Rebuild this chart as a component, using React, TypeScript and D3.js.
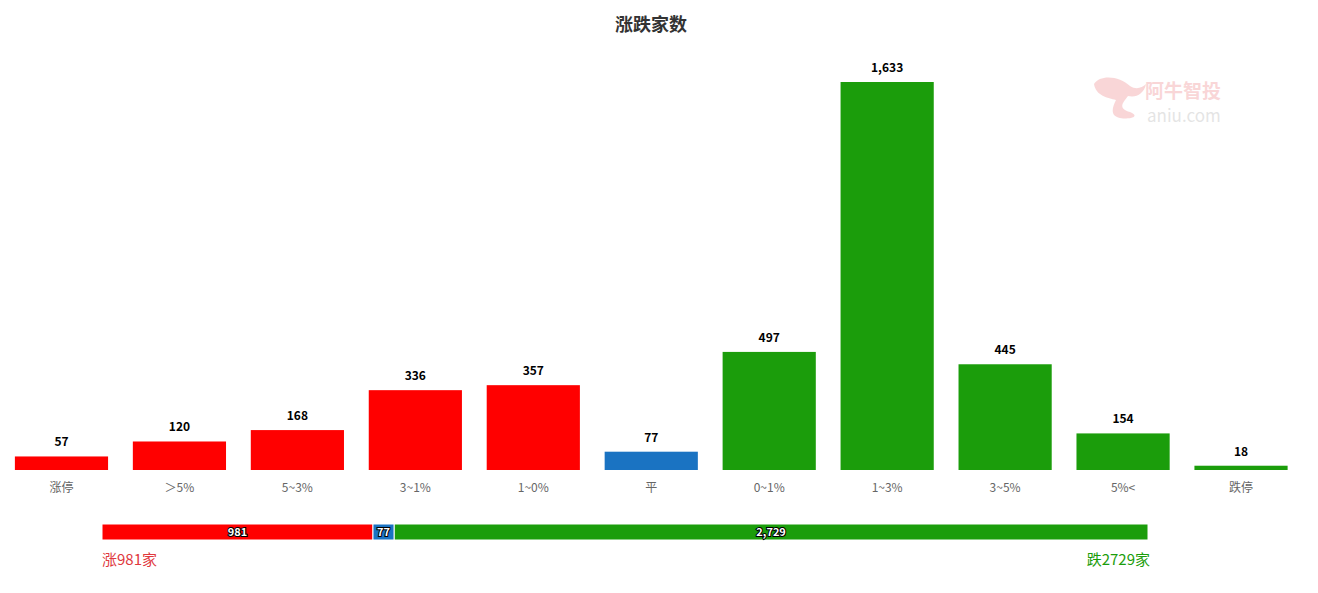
import { useEffect, useRef } from 'react';
import * as d3 from 'd3';

const categories = ['涨停', '＞5%', '5~3%', '3~1%', '1~0%', '平', '0~1%', '1~3%', '3~5%', '5%<', '跌停'];
const counts = [57, 120, 168, 336, 357, 77, 497, 1633, 445, 154, 18];
const kinds = ['up', 'up', 'up', 'up', 'up', 'flat', 'down', 'down', 'down', 'down', 'down'];

const summaryKeys = ['up', 'flat', 'down'];
const summaryValues = [981, 77, 2729];

const colors: Record<string, string> = { up: '#ff0000', flat: '#1a73c2', down: '#1b9d0b' };

const W = 1318;
const H = 593;
const FONT = '"Microsoft YaHei", "Noto Sans CJK SC", "Noto Sans", sans-serif';

const App = () => {
  const ref = useRef<SVGSVGElement>(null);

  useEffect(() => {
    document.body.style.margin = '0';
    if (!ref.current) return;
    const svg = d3.select(ref.current);
    svg.selectAll('*').remove();

    // title
    svg.append('text')
      .attr('x', 651).attr('y', 31)
      .attr('text-anchor', 'middle')
      .attr('font-family', FONT)
      .attr('font-size', 18).attr('font-weight', 'bold')
      .attr('fill', '#333')
      .text('涨跌家数');

    // watermark
    const wm = svg.append('g').attr('opacity', 0.22);
    wm.append('path')
      .attr('d', 'M1094,84 C1100,74 1120,76 1130,86 C1136,90 1142,88 1146,84 C1144,94 1136,98 1128,96 C1122,104 1118,108 1130,112 C1140,116 1132,120 1120,118 C1110,116 1112,108 1116,100 C1108,98 1096,96 1094,84 Z')
      .attr('fill', '#e5484d');
    wm.append('text')
      .attr('x', 1145).attr('y', 98)
      .attr('font-family', FONT).attr('font-size', 19).attr('font-weight', 'bold')
      .attr('fill', '#e5484d')
      .text('阿牛智投');
    wm.append('text')
      .attr('x', 1147).attr('y', 122)
      .attr('font-family', FONT).attr('font-size', 17)
      .attr('fill', '#888')
      .text('aniu.com');

    // main bars
    const x = d3.scaleBand<string>()
      .domain(categories)
      .range([2.5, 1300])
      .paddingInner(0.21)
      .paddingOuter(0.105);

    const y = d3.scaleLinear()
      .domain([0, 1633])
      .range([470, 82]);

    const g = svg.append('g');
    const data = categories.map((c, i) => ({ c, v: counts[i], k: kinds[i] }));

    g.selectAll('rect.bar')
      .data(data)
      .enter()
      .append('rect')
      .attr('class', 'bar')
      .attr('x', (d) => x(d.c) || 0)
      .attr('y', (d) => y(d.v))
      .attr('width', x.bandwidth())
      .attr('height', (d) => y(0) - y(d.v))
      .attr('fill', (d) => colors[d.k]);

    g.selectAll('text.val')
      .data(data)
      .enter()
      .append('text')
      .attr('class', 'val')
      .attr('x', (d) => (x(d.c) || 0) + x.bandwidth() / 2)
      .attr('y', (d) => y(d.v) - 10)
      .attr('text-anchor', 'middle')
      .attr('font-family', FONT)
      .attr('font-size', 12).attr('font-weight', 'bold')
      .attr('fill', '#000')
      .text((d) => d3.format(',')(d.v));

    const axis = d3.axisBottom(x).tickSize(0).tickPadding(13);
    const ax = g.append('g').attr('transform', `translate(0,${y(0)})`).call(axis);
    ax.select('.domain').remove();
    ax.selectAll('text')
      .attr('font-family', FONT)
      .attr('font-size', 12)
      .attr('fill', '#666');

    // summary stacked bar
    const total = d3.sum(summaryValues);
    const sx = d3.scaleLinear().domain([0, total]).range([102, 1148]);
    let acc = 0;
    const segs = summaryKeys.map((k, i) => {
      const s = { k, v: summaryValues[i], x0: acc, x1: acc + summaryValues[i] };
      acc += summaryValues[i];
      return s;
    });

    const sg = svg.append('g');
    sg.selectAll('rect')
      .data(segs)
      .enter()
      .append('rect')
      .attr('x', (d) => sx(d.x0))
      .attr('y', 524)
      .attr('width', (d) => sx(d.x1) - sx(d.x0))
      .attr('height', 16)
      .attr('fill', (d) => colors[d.k])
      .attr('stroke', '#fff')
      .attr('stroke-width', 1);

    sg.selectAll('text')
      .data(segs)
      .enter()
      .append('text')
      .attr('x', (d) => (sx(d.x0) + sx(d.x1)) / 2)
      .attr('y', 536)
      .attr('text-anchor', 'middle')
      .attr('font-family', FONT)
      .attr('font-size', 11).attr('font-weight', 'bold')
      .attr('fill', '#fff')
      .attr('stroke', '#000')
      .attr('stroke-width', 2)
      .attr('paint-order', 'stroke')
      .text((d) => d3.format(',')(d.v));

    svg.append('text')
      .attr('x', 102).attr('y', 565)
      .attr('font-family', FONT).attr('font-size', 15)
      .attr('fill', '#e0393e')
      .text(`涨${summaryValues[0]}家`);

    svg.append('text')
      .attr('x', 1150).attr('y', 565)
      .attr('text-anchor', 'end')
      .attr('font-family', FONT).attr('font-size', 15)
      .attr('fill', '#1b9d0b')
      .text(`跌${summaryValues[2]}家`);
  }, []);

  return <svg ref={ref} width={W} height={H} style={{ display: 'block', background: '#fff' }} />;
};

export default App;
